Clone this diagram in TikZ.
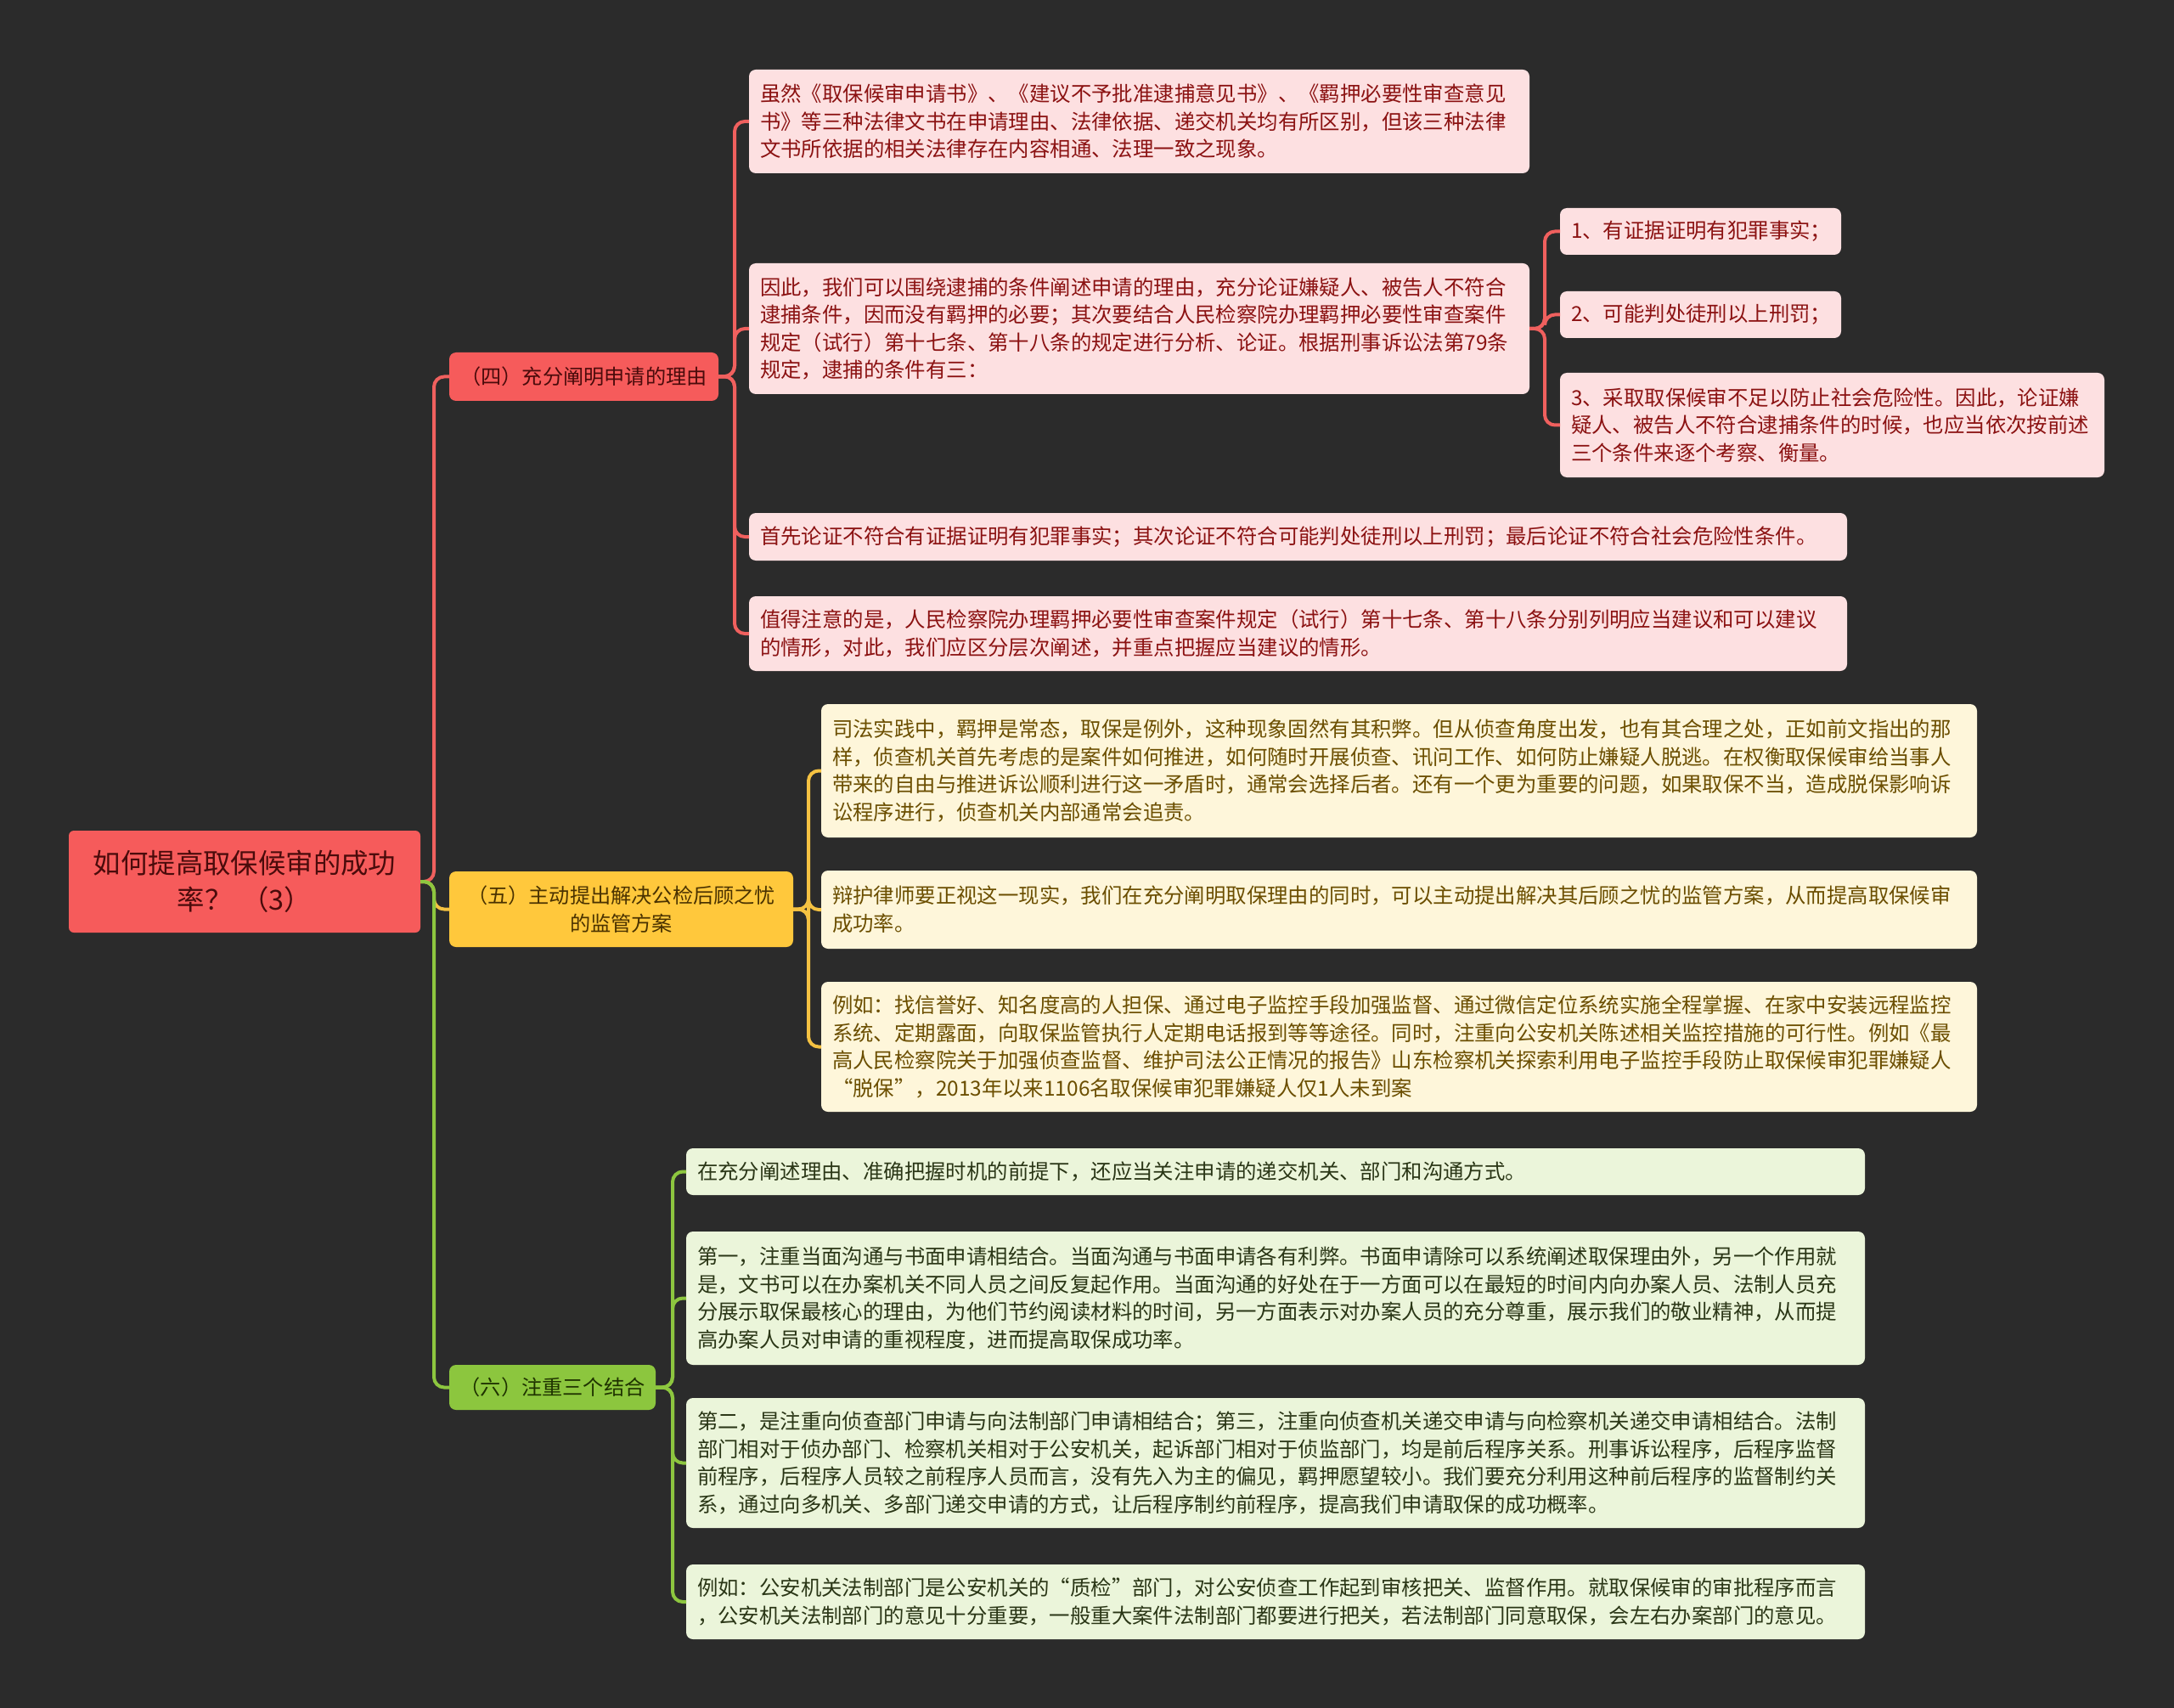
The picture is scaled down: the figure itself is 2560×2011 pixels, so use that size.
\documentclass[tikz,border=0pt]{standalone}
\usepackage{fontspec}
\setmainfont{Noto Sans CJK SC}
\definecolor{bgc}{HTML}{2B2B2B}
\definecolor{redF}{HTML}{F65B5B}
\definecolor{redL}{HTML}{F0605E}
\definecolor{redT}{HTML}{4A0B0B}
\definecolor{yelF}{HTML}{FFC83C}
\definecolor{yelL}{HTML}{F5C242}
\definecolor{yelT}{HTML}{4A3200}
\definecolor{grnF}{HTML}{8CC63E}
\definecolor{grnL}{HTML}{8DC63F}
\definecolor{grnT}{HTML}{1F3300}
\definecolor{pinkF}{HTML}{FDE0E1}
\definecolor{pinkT}{HTML}{8B1212}
\definecolor{creamF}{HTML}{FEF6DA}
\definecolor{creamT}{HTML}{6B4E00}
\definecolor{mintF}{HTML}{EBF5DA}
\definecolor{mintT}{HTML}{2A3616}
\begin{document}
\begin{tikzpicture}[x=0.5pt,y=-0.5pt,
  box/.style={rounded corners=4pt, anchor=north west, inner xsep=6.5pt, inner ysep=0pt,
    outer sep=0pt, align=left, font=\fontsize{12.2pt}{16.3pt}\selectfont},
  pinkbox/.style={box, fill=pinkF, text=pinkT},
  creambox/.style={box, fill=creamF, text=creamT},
  mintbox/.style={box, fill=mintF, text=mintT},
  branch/.style={rounded corners=4pt, anchor=north west, inner xsep=4pt, inner ysep=0pt,
    outer sep=0pt, align=center, font=\fontsize{12.1pt}{16.3pt}\selectfont},
  link/.style={line width=2pt, rounded corners=6pt}]
\fill[bgc] (0,0) rectangle (2560,2011);
\useasboundingbox (0,0) rectangle (2560,2011);

% root
\node[rounded corners=3pt, anchor=north west, inner xsep=6.5pt, inner ysep=0pt, outer sep=0pt,
  align=center, font=\fontsize{16.2pt}{21.25pt}\selectfont, fill=redF, text=redT,
  text width=194pt, minimum height=60pt] (root) at (81,978)
  {如何提高取保候审的成功\\率？ （3）};

% branches
\node[branch, fill=redF, text=redT, text width=150.5pt, minimum height=28.5pt] (b4) at (529,415)
  {（四）充分阐明申请的理由};
\node[branch, fill=yelF, text=yelT, text width=194.5pt, minimum height=44.5pt] (b5) at (529,1026)
  {（五）主动提出解决公检后顾之忧\\的监管方案};
\node[branch, fill=grnF, text=grnT, text width=113.5pt, minimum height=26.5pt] (b6) at (529,1607)
  {（六）注重三个结合};

% (四) children
\node[pinkbox, text width=446.5pt, minimum height=61pt] (a1) at (882,82)
  {虽然《取保候审申请书》、《建议不予批准逮捕意见书》、《羁押必要性审查意见\\
   书》等三种法律文书在申请理由、法律依据、递交机关均有所区别，但该三种法律\\
   文书所依据的相关法律存在内容相通、法理一致之现象。};
\node[pinkbox, text width=446.5pt, minimum height=77pt] (a2) at (882,310)
  {因此，我们可以围绕逮捕的条件阐述申请的理由，充分论证嫌疑人、被告人不符合\\
   逮捕条件，因而没有羁押的必要；其次要结合人民检察院办理羁押必要性审查案件\\
   规定（试行）第十七条、第十八条的规定进行分析、论证。根据刑事诉讼法第79条\\
   规定，逮捕的条件有三：};
\node[pinkbox, text width=633.5pt, minimum height=28pt] (a3) at (882,604)
  {首先论证不符合有证据证明有犯罪事实；其次论证不符合可能判处徒刑以上刑罚；最后论证不符合社会危险性条件。};
\node[pinkbox, text width=633.5pt, minimum height=44pt] (a4) at (882,702)
  {值得注意的是，人民检察院办理羁押必要性审查案件规定（试行）第十七条、第十八条分别列明应当建议和可以建议\\
   的情形，对此，我们应区分层次阐述，并重点把握应当建议的情形。};

% A2 children
\node[pinkbox, text width=152.5pt, minimum height=27.5pt] (c1) at (1837,245)
  {1、有证据证明有犯罪事实；};
\node[pinkbox, text width=152.5pt, minimum height=27.5pt] (c2) at (1837,343)
  {2、可能判处徒刑以上刑罚；};
\node[pinkbox, text width=307.5pt, minimum height=61.5pt] (c3) at (1837,439)
  {3、采取取保候审不足以防止社会危险性。因此，论证嫌\\
   疑人、被告人不符合逮捕条件的时候，也应当依次按前述\\
   三个条件来逐个考察、衡量。};

% (五) children
\node[creambox, text width=667.5pt, minimum height=78.5pt] (y1) at (967,829)
  {司法实践中，羁押是常态，取保是例外，这种现象固然有其积弊。但从侦查角度出发，也有其合理之处，正如前文指出的那\\
   样，侦查机关首先考虑的是案件如何推进，如何随时开展侦查、讯问工作、如何防止嫌疑人脱逃。在权衡取保候审给当事人\\
   带来的自由与推进诉讼顺利进行这一矛盾时，通常会选择后者。还有一个更为重要的问题，如果取保不当，造成脱保影响诉\\
   讼程序进行，侦查机关内部通常会追责。};
\node[creambox, text width=667.5pt, minimum height=46pt] (y2) at (967,1025)
  {辩护律师要正视这一现实，我们在充分阐明取保理由的同时，可以主动提出解决其后顾之忧的监管方案，从而提高取保候审\\
   成功率。};
\node[creambox, text width=667.5pt, minimum height=76.5pt] (y3) at (967,1156)
  {例如：找信誉好、知名度高的人担保、通过电子监控手段加强监督、通过微信定位系统实施全程掌握、在家中安装远程监控\\
   系统、定期露面，向取保监管执行人定期电话报到等等途径。同时，注重向公安机关陈述相关监控措施的可行性。例如《最\\
   高人民检察院关于加强侦查监督、维护司法公正情况的报告》山东检察机关探索利用电子监控手段防止取保候审犯罪嫌疑人\\
   “脱保”，2013年以来1106名取保候审犯罪嫌疑人仅1人未到案};

% (六) children
\node[mintbox, text width=681pt, minimum height=27.5pt] (g1) at (808,1352)
  {在充分阐述理由、准确把握时机的前提下，还应当关注申请的递交机关、部门和沟通方式。};
\node[mintbox, text width=681pt, minimum height=78.5pt] (g2) at (808,1450)
  {第一，注重当面沟通与书面申请相结合。当面沟通与书面申请各有利弊。书面申请除可以系统阐述取保理由外，另一个作用就\\
   是，文书可以在办案机关不同人员之间反复起作用。当面沟通的好处在于一方面可以在最短的时间内向办案人员、法制人员充\\
   分展示取保最核心的理由，为他们节约阅读材料的时间，另一方面表示对办案人员的充分尊重，展示我们的敬业精神，从而提\\
   高办案人员对申请的重视程度，进而提高取保成功率。};
\node[mintbox, text width=681pt, minimum height=76.5pt] (g3) at (808,1646)
  {第二，是注重向侦查部门申请与向法制部门申请相结合；第三，注重向侦查机关递交申请与向检察机关递交申请相结合。法制\\
   部门相对于侦办部门、检察机关相对于公安机关，起诉部门相对于侦监部门，均是前后程序关系。刑事诉讼程序，后程序监督\\
   前程序，后程序人员较之前程序人员而言，没有先入为主的偏见，羁押愿望较小。我们要充分利用这种前后程序的监督制约关\\
   系，通过向多机关、多部门递交申请的方式，让后程序制约前程序，提高我们申请取保的成功概率。};
\node[mintbox, text width=681pt, minimum height=44pt] (g4) at (808,1842)
  {例如：公安机关法制部门是公安机关的“质检”部门，对公安侦查工作起到审核把关、监督作用。就取保候审的审批程序而言\\
   ，公安机关法制部门的意见十分重要，一般重大案件法制部门都要进行把关，若法制部门同意取保，会左右办案部门的意见。};

% connectors root -> branches
\coordinate (rj) at (511,1038);
\draw[link, redL] (root.east) -- (rj) |- (b4.west);
\draw[link, yelL] (root.east) -- (rj) |- (b5.west);
\draw[link, grnL] (root.east) -- (rj) |- (b6.west);

% (四) -> A
\coordinate (j4) at (865,443);
\foreach \n in {a1,a2,a3,a4} \draw[link, redL] (b4.east) -- (j4) |- (\n.west);
% A2 -> C
\coordinate (ja) at (1819,387);
\foreach \n in {c1,c2,c3} \draw[link, redL] (a2.east) -- (ja) |- (\n.west);
% (五) -> Y
\coordinate (j5) at (952,1070.5);
\foreach \n in {y1,y2,y3} \draw[link, yelL] (b5.east) -- (j5) |- (\n.west);
% (六) -> G
\coordinate (j6) at (792,1633.5);
\foreach \n in {g1,g2,g3,g4} \draw[link, grnL] (b6.east) -- (j6) |- (\n.west);
\end{tikzpicture}
\end{document}
